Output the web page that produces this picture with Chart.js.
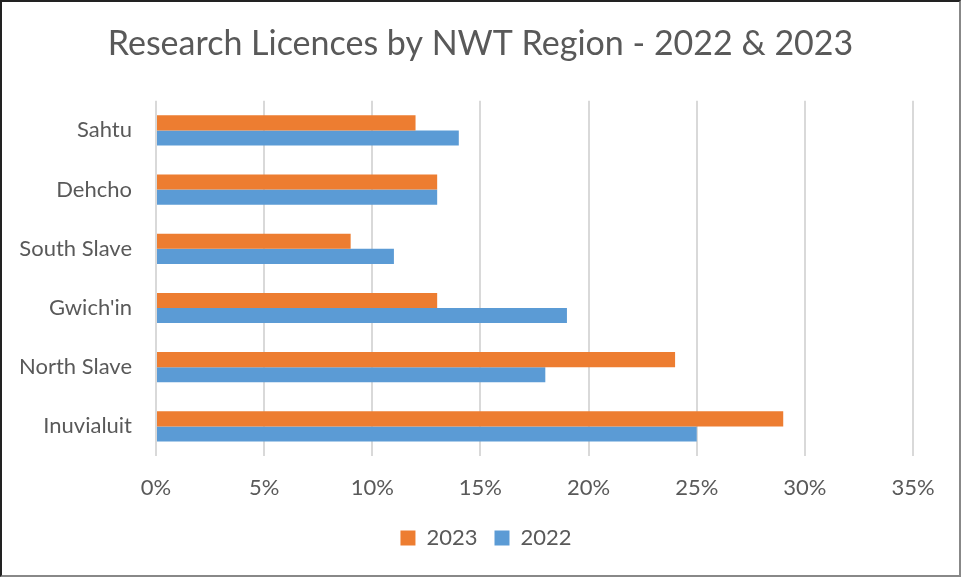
<!DOCTYPE html>
<html lang="en">
<head>
<meta charset="UTF-8">
<title>Research Licences by NWT Region</title>
<script src="https://cdn.jsdelivr.net/npm/chart.js@4.4.0/dist/chart.umd.min.js"></script>
<style type="text/css">
	html, body { margin: 0; padding: 0; background: #fff; }
	#wrap {
		width: 961px;
		height: 577px;
		box-sizing: border-box;
		border: 2px solid #222;
		border-right-color: #888;
		border-bottom-color: #888;
		position: relative;
	}
</style>
</head>
<body>
	<div id="wrap">
		<canvas id="myChart"></canvas>
	</div>
	<script>
	// 데이터
	const regions = ['Sahtu', 'Dehcho', 'South Slave', "Gwich'in", 'North Slave', 'Inuvialuit'];
	const values2023 = [12, 13, 9, 13, 24, 29];
	const values2022 = [14, 13, 11, 19, 18, 25];
	const xTicks = [0, 5, 10, 15, 20, 25, 30, 35];

	const font = "Lato, 'Open Sans', sans-serif";
	const grey = '#595959';

	// 제목/범례를 캔버스 전체 폭 기준으로 가운데 정렬
	const centerBoxes = {
		id: 'centerBoxes',
		afterLayout(chart) {
			const t = chart.titleBlock;
			t.left = 0;
			t.right = chart.width;
			t.width = chart.width;
			const l = chart.legend;
			l.left = 11;
			l.right = chart.width;
			l.width = l.right - l.left;
		}
	};

	var ctx = document.getElementById('myChart');
	var myChart = new Chart(ctx, {
		type: 'bar',
		data: {
			labels: regions,
			datasets: [{
				label: '2023',
				data: values2023,
				backgroundColor: '#ED7D31',
				borderWidth: 0
			}, {
				label: '2022',
				data: values2022,
				backgroundColor: '#5B9BD5',
				borderWidth: 0
			}]
		},
		plugins: [centerBoxes],
		options: {
			indexAxis: 'y',
			responsive: true,
			maintainAspectRatio: false,
			animation: false,
			categoryPercentage: 0.51,
			barPercentage: 1,
			layout: { padding: { left: 10, right: 46, top: 0, bottom: 16 } },
			scales: {
				x: {
					min: 0,
					max: 35,
					afterBuildTicks: function(axis) {
						axis.ticks = xTicks.map(v => ({ value: v }));
					},
					afterFit: function(axis) { axis.height = 54; },
					grid: { color: '#D9D9D9', lineWidth: 2, drawTicks: false },
					border: { display: false },
					ticks: {
						padding: 19,
						color: grey,
						font: { family: font, size: 22 },
						callback: v => v + '%'
					}
				},
				y: {
					grid: { display: false },
					border: { display: false },
					afterFit: function(axis) { axis.width = 144; },
					ticks: {
						padding: 16,
						color: grey,
						font: { family: font, size: 22 }
					}
				}
			},
			plugins: {
				title: {
					display: true,
					text: 'Research Licences by NWT Region - 2022 & 2023',
					color: grey,
					font: { family: font, size: 34, weight: 'normal' },
					padding: { top: 22, bottom: 36 }
				},
				legend: {
					position: 'bottom',
					labels: {
						color: grey,
						font: { family: font, size: 22 },
						boxWidth: 15,
						boxHeight: 15,
						padding: 17
					}
				},
				tooltip: { enabled: false }
			}
		}
	});
	</script>
</body>
</html>
